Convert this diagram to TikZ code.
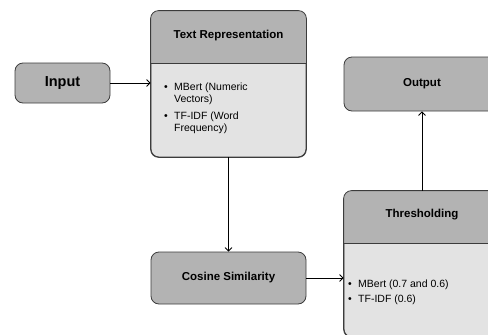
\documentclass[tikz,border=0pt]{standalone}
\usepackage{fontspec}
\setmainfont{Liberation Sans}
\usetikzlibrary{arrows.meta,calc}

\definecolor{headfill}{HTML}{B3B3B3}
\definecolor{bodyfill}{HTML}{E3E3E3}
\definecolor{edge}{HTML}{3C3C3C}

\tikzset{
  x=1pt, y=-1pt,
  blockbox/.style={draw=edge, line width=0.8pt, rounded corners=8pt, fill=headfill,
    inner sep=0pt},
  titletext/.style={font=\bfseries\fontsize{11.5}{13}\selectfont, inner sep=0pt},
  listtext/.style={font=\fontsize{10.5}{12}\selectfont, align=left, inner sep=0pt, anchor=north west},
  flow/.style={draw=black, line width=0.8pt, -{Straight Barb[length=3.5pt,width=7pt]}},
}
\newcommand{\bul}{\makebox[10pt][l]{\textbullet}}

\begin{document}
\begin{tikzpicture}
\useasboundingbox (0,0) rectangle (488,335);
\clip (0,0) rectangle (488,335);

% plain blocks
\node[blockbox, minimum width=95pt, minimum height=40pt] (input) at (62.5,83) {};
\node[titletext, font=\bfseries\fontsize{14.5}{16}\selectfont] (inputlbl) at (input) {Input};

\node[blockbox, minimum width=155pt, minimum height=52pt] (cosine) at (228.5,278) {};
\node[titletext] (cosinelbl) at (cosine) {Cosine Similarity};

\node[blockbox, minimum width=156pt, minimum height=54pt] (output) at (422,84) {};
\node[titletext] (outputlbl) at (output) {Output};

% split blocks: grey header over light body
\node[blockbox, fill=bodyfill, minimum width=155pt, minimum height=146pt] (rep) at (228.5,84) {};
\begin{scope}
  \clip[rounded corners=8pt] (rep.north west) rectangle (rep.south east);
  \fill[headfill] (rep.north west) rectangle ($(rep.north east)+(0,53)$);
\end{scope}
\draw[edge, line width=0.8pt, rounded corners=8pt] (rep.north west) rectangle (rep.south east);
\draw[edge, line width=0.8pt] ($(rep.north west)+(0,53)$) -- ($(rep.north east)+(0,53)$);
\node[titletext] (replbl) at ($(rep.north)+(0,25)$) {Text Representation};
\node[listtext] (replist) at (164,83)
  {\bul MBert (Numeric\\\hspace*{10pt}Vectors)\\[5pt]\bul TF-IDF (Word\\\hspace*{10pt}Frequency)};

\node[blockbox, fill=bodyfill, minimum width=156pt, minimum height=146pt] (thresh) at (422,264) {};
\begin{scope}
  \clip[rounded corners=8pt] (thresh.north west) rectangle (thresh.south east);
  \fill[headfill] (thresh.north west) rectangle ($(thresh.north east)+(0,53)$);
\end{scope}
\draw[edge, line width=0.8pt, rounded corners=8pt] (thresh.north west) rectangle (thresh.south east);
\draw[edge, line width=0.8pt] ($(thresh.north west)+(0,53)$) -- ($(thresh.north east)+(0,53)$);
\node[titletext] (threshlbl) at ($(thresh.north)+(0,24)$) {Thresholding};
\node[listtext] (threshlist) at (348,280)
  {\bul MBert (0.7 and 0.6)\\[3pt]\bul TF-IDF (0.6)};

% connectors
\draw[flow] (input.east) -- (input.east -| rep.west);
\draw[flow] (rep.south) -- (cosine.north);
\draw[flow] (cosine.east) -- (cosine.east -| thresh.west);
\draw[flow] (thresh.north) -- (output.south);
\end{tikzpicture}
\end{document}
